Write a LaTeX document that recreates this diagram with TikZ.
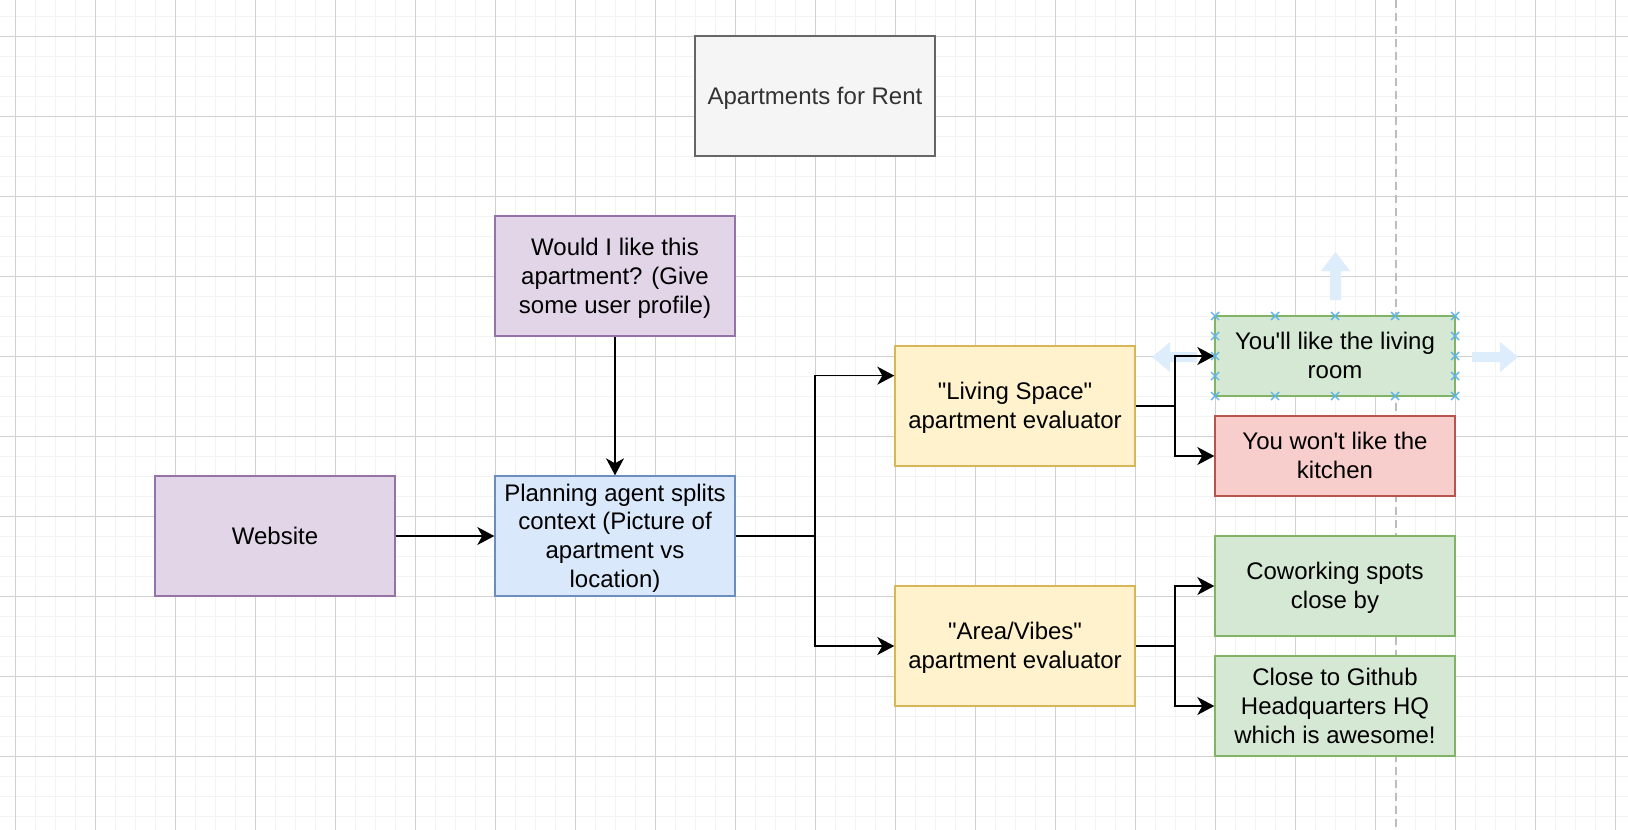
\documentclass[tikz,border=0pt]{standalone}
\usepackage{fontspec}
\setmainfont{Liberation Sans}
\usetikzlibrary{arrows.meta,calc}
\definecolor{gridmajor}{HTML}{D0D0D0}
\definecolor{gridminor}{HTML}{F3F3F3}
\definecolor{guide}{HTML}{BDBDBD}
\definecolor{titlefill}{HTML}{F5F5F5}
\definecolor{titledraw}{HTML}{666666}
\definecolor{titletext}{HTML}{333333}
\definecolor{purplefill}{HTML}{E1D5E7}
\definecolor{purpledraw}{HTML}{9673A6}
\definecolor{bluefill}{HTML}{DAE8FC}
\definecolor{bluedraw}{HTML}{6C8EBF}
\definecolor{yellowfill}{HTML}{FFF2CC}
\definecolor{yellowdraw}{HTML}{D6B656}
\definecolor{greenfill}{HTML}{D5E8D4}
\definecolor{greendraw}{HTML}{82B366}
\definecolor{redfill}{HTML}{F8CECC}
\definecolor{reddraw}{HTML}{B85450}
\definecolor{selmark}{HTML}{5DB3EC}
\definecolor{hintarrow}{HTML}{DEEDFB}
\newcommand{\boxlines}[1]{\raisebox{-2.5pt}[\height][\depth]{\begin{tabular}{@{}c@{}}#1\end{tabular}}}
\begin{document}
\begin{tikzpicture}[x=1pt,y=-1pt,
  box/.style={draw, rectangle, line width=1.4pt, minimum width=240pt, minimum height=120pt,
    inner sep=0pt, font=\fontsize{24}{28.8}\selectfont},
  titlebox/.style={box, fill=titlefill, draw=titledraw, text=titletext},
  purplebox/.style={box, fill=purplefill, draw=purpledraw},
  bluebox/.style={box, fill=bluefill, draw=bluedraw},
  yellowbox/.style={box, fill=yellowfill, draw=yellowdraw},
  greenbox/.style={box, fill=greenfill, draw=greendraw},
  redbox/.style={box, fill=redfill, draw=reddraw},
  edge/.style={line width=1.5pt, draw=black, -{Stealth[length=17pt, width=18pt, inset=5pt]}},
  minorline/.style={draw=gridminor, line width=1pt},
  majorline/.style={draw=gridmajor, line width=1pt},
  selx/.style={draw=selmark, line width=1.4pt},
  hint/.style={fill=hintarrow, draw=none}]
\useasboundingbox (0,0) rectangle (1628,830);
\fill[white] (0,0) rectangle (1628,830);
% grid
\foreach \x in {35,55,...,1615} \draw[minorline] (\x,0) -- (\x,830);
\foreach \y in {16,36,...,816} \draw[minorline] (0,\y) -- (1628,\y);
\foreach \x in {15,95,...,1615} \draw[majorline] (\x,0) -- (\x,830);
\foreach \y in {36,116,...,796} \draw[majorline] (0,\y) -- (1628,\y);
% guide line
\draw[guide, line width=1.5pt, dash pattern=on 8pt off 5pt] (1396,0) -- (1396,830);
% hint arrows around selection
\fill[hint] (1330,300) -- (1330,271) -- (1321,271) -- (1335.5,252) -- (1350,271) -- (1341,271) -- (1341,300) -- cycle;
\fill[hint] (1197,352) -- (1170,352) -- (1170,342) -- (1152,357) -- (1170,372) -- (1170,362) -- (1197,362) -- cycle;
\fill[hint] (1472,352) -- (1500,352) -- (1500,342) -- (1518,357) -- (1500,372) -- (1500,362) -- (1472,362) -- cycle;
% nodes
\node[titlebox] (title) at (815,96) {\boxlines{Apartments for Rent}};
\node[purplebox] (would) at (615,276) {\boxlines{Would I like this\\apartment? (Give\\some user profile)}};
\node[purplebox] (website) at (275,536) {\boxlines{Website}};
\node[bluebox] (plan) at (615,536) {\boxlines{Planning agent splits\\context (Picture of\\apartment vs\\location)}};
\node[yellowbox] (living) at (1015,406) {\boxlines{\textquotedbl Living Space\textquotedbl\\apartment evaluator}};
\node[yellowbox] (area) at (1015,646) {\boxlines{\textquotedbl Area/Vibes\textquotedbl\\apartment evaluator}};
\node[greenbox, minimum height=80pt] (room) at (1335,356) {\boxlines{You\textquotesingle ll like the living\\room}};
\node[redbox, minimum height=80pt] (kitchen) at (1335,456) {\boxlines{You won\textquotesingle t like the\\kitchen}};
\node[greenbox, minimum height=100pt] (cowork) at (1335,586) {\boxlines{Coworking spots\\close by}};
\node[greenbox, minimum height=100pt] (github) at (1335,706) {\boxlines{Close to Github\\Headquarters HQ\\which is awesome!}};
% connectors
\draw[edge] (website) -- (plan);
\draw[edge] (would) -- (plan);
\coordinate (splitA) at (815,536);
\coordinate (livingIn) at ($(living.north west)!0.25!(living.south west)$);
\draw[edge] (plan.east) -- (splitA) |- (livingIn);
\draw[edge] (plan.east) -- (splitA) |- (area.west);
\coordinate (splitB) at (1175,406);
\draw[edge] (living.east) -- (splitB) |- (room.west);
\draw[edge] (living.east) -- (splitB) |- (kitchen.west);
\coordinate (splitC) at (1175,646);
\draw[edge] (area.east) -- (splitC) |- (cowork.west);
\draw[edge] (area.east) -- (splitC) |- (github.west);
% selection markers
\foreach \x in {1215,1275,1335,1395,1455} {
  \draw[selx] (\x-4,312) -- (\x+4,320) (\x-4,320) -- (\x+4,312);
  \draw[selx] (\x-4,392) -- (\x+4,400) (\x-4,400) -- (\x+4,392);
}
\foreach \y in {336,356,376} {
  \draw[selx] (1211,\y-4) -- (1219,\y+4) (1211,\y+4) -- (1219,\y-4);
  \draw[selx] (1451,\y-4) -- (1459,\y+4) (1451,\y+4) -- (1459,\y-4);
}
\end{tikzpicture}
\end{document}
